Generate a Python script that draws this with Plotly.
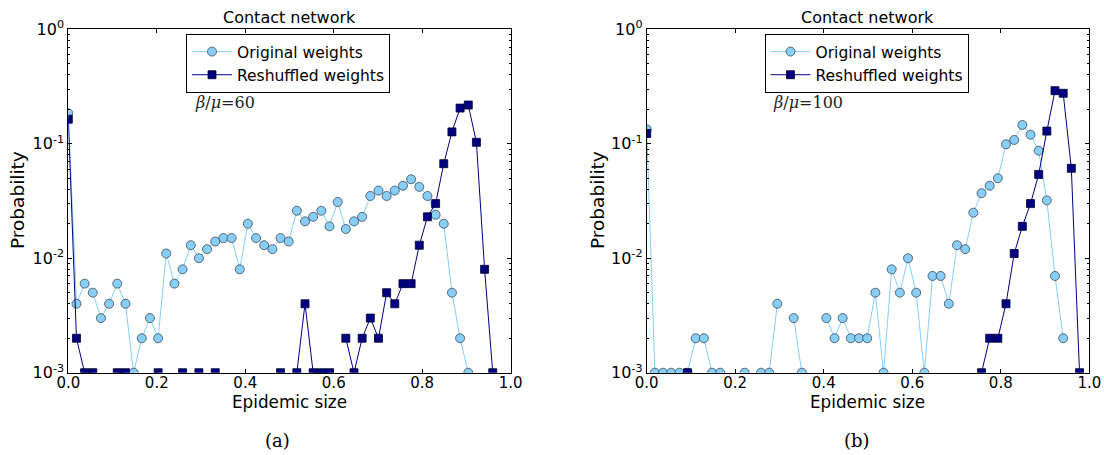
import plotly.graph_objects as go

# Epidemic size bins (fraction of nodes infected)
epidemic_size = [
    0.0, 0.0185, 0.0369, 0.0554, 0.0738, 0.0923, 0.1107, 0.1292, 0.1476, 0.1661,
    0.1845, 0.2030, 0.2214, 0.2399, 0.2583, 0.2768, 0.2952, 0.3137, 0.3321, 0.3506,
    0.3690, 0.3875, 0.4059, 0.4244, 0.4428, 0.4613, 0.4797, 0.4982, 0.5166, 0.5351,
    0.5535, 0.5720, 0.5904, 0.6089, 0.6273, 0.6458, 0.6642, 0.6827, 0.7011, 0.7196,
    0.7380, 0.7565, 0.7749, 0.7934, 0.8118, 0.8303, 0.8487, 0.8672, 0.8856, 0.9041,
    0.9225, 0.9410, 0.9594, 0.9779,
]

# beta/mu = 60
orig_60 = [
    0.185, 0.004, 0.006, 0.005, 0.003, 0.004, 0.006, 0.004, 0.001, 0.002,
    0.003, 0.002, 0.011, 0.006, 0.008, 0.013, 0.010, 0.012, 0.014, 0.015,
    0.015, 0.008, 0.020, 0.015, 0.013, 0.012, 0.015, 0.014, 0.026, 0.021,
    0.023, 0.026, 0.019, 0.031, 0.018, 0.021, 0.023, 0.035, 0.039, 0.035,
    0.039, 0.043, 0.049, 0.042, 0.035, 0.024, 0.020, 0.005, 0.002, 0.001,
    0, 0, 0, 0,
]
resh_60 = [
    0.164, 0.002, 0.001, 0.001, 0, 0, 0.001, 0.001, 0, 0,
    0, 0.001, 0, 0, 0.001, 0, 0.001, 0, 0.001, 0,
    0, 0, 0, 0, 0, 0, 0.001, 0, 0.001, 0.004,
    0.001, 0.001, 0.001, 0, 0.002, 0.001, 0.002, 0.003, 0.002, 0.005,
    0.004, 0.006, 0.006, 0.013, 0.023, 0.030, 0.067, 0.127, 0.205, 0.218,
    0.103, 0.008, 0.001, 0,
]

# beta/mu = 100
orig_100 = [
    0.134, 0.001, 0.001, 0.001, 0.001, 0.001, 0.002, 0.002, 0.001, 0.001,
    0, 0, 0.001, 0, 0.001, 0.001, 0.004, 0, 0.003, 0.001,
    0, 0, 0.003, 0.002, 0.003, 0.002, 0.002, 0.002, 0.005, 0.001,
    0.008, 0.005, 0.010, 0.005, 0.001, 0.007, 0.007, 0.004, 0.013, 0.012,
    0.025, 0.037, 0.043, 0.050, 0.099, 0.108, 0.146, 0.120, 0.087, 0.032,
    0.007, 0.002, 0, 0,
]
resh_100 = [
    0.123, 0, 0, 0, 0, 0.001, 0, 0, 0, 0,
    0, 0, 0, 0, 0, 0, 0, 0, 0, 0,
    0, 0, 0, 0, 0, 0, 0, 0, 0, 0,
    0, 0, 0, 0, 0, 0, 0, 0, 0, 0,
    0, 0.001, 0.002, 0.002, 0.004, 0.011, 0.019, 0.030, 0.054, 0.129,
    0.291, 0.276, 0.061, 0.001,
]

panels = [
    ("60", orig_60, resh_60, "(a)"),
    ("100", orig_100, resh_100, "(b)"),
]
series_names = ["Original weights", "Reshuffled weights"]
ytick_vals = [1, 0.1, 0.01, 0.001]
ytick_text = ["10<sup>0</sup>", "10<sup>-1</sup>", "10<sup>-2</sup>", "10<sup>-3</sup>"]
yminor_vals = [m * 10 ** e for e in (-3, -2, -1) for m in range(2, 10)]

LIGHT = "#87CEFA"
DARK = "#000080"
FONT = "DejaVu Sans"
SERIF = "DejaVu Serif"

x_domains = [(68.3 / 1104, 510.7 / 1104), (646.7 / 1104, 1089.3 / 1104)]
y_domain = (1 - 372.7 / 455, 1 - 29.3 / 455)


def positive(vals):
    # zero probabilities cannot be shown on a log axis
    return [v if v > 0 else None for v in vals]


def label(text, px, py, size=16, family=FONT, **kw):
    # text placed by its centre, in pixels from the top-left corner
    return dict(text=text, x=px / 1104, y=1 - py / 455, xref="paper", yref="paper",
                xanchor=kw.pop("xanchor", "center"), yanchor="middle",
                showarrow=False, font=dict(family=family, size=size,
                                           color=kw.pop("color", "black")), **kw)


fig = go.Figure()
layout = dict(
    width=1104, height=455,
    margin=dict(l=0, r=0, t=0, b=0, pad=0, autoexpand=False),
    paper_bgcolor="white", plot_bgcolor="white",
    showlegend=True,
    annotations=[],
)

for i, (ratio, orig, resh, tag) in enumerate(panels):
    sfx = "" if i == 0 else str(i + 1)
    xa, ya = "x" + sfx, "y" + sfx
    leg = "legend" + sfx
    fig.add_trace(go.Scatter(
        x=epidemic_size, y=positive(orig), name=series_names[0],
        mode="lines+markers", xaxis=xa, yaxis=ya, legend=leg,
        line=dict(color=LIGHT, width=1),
        marker=dict(symbol="circle", size=9, color=LIGHT,
                    line=dict(color="#3a4a55", width=0.8)),
    ))
    fig.add_trace(go.Scatter(
        x=epidemic_size, y=positive(resh), name=series_names[1],
        mode="lines+markers", xaxis=xa, yaxis=ya, legend=leg,
        line=dict(color=DARK, width=1),
        marker=dict(symbol="square", size=8, color=DARK,
                    line=dict(color="#000033", width=0.8)),
    ))

    layout["xaxis" + sfx] = dict(
        domain=list(x_domains[i]), anchor=ya, range=[0, 1],
        tickvals=[0, 0.2, 0.4, 0.6, 0.8, 1.0], tickformat=".1f",
        ticks="inside", ticklen=4, tickcolor="black",
        showline=True, linecolor="black", linewidth=1, mirror="ticks",
        showgrid=False, zeroline=False, ticklabelstandoff=-4,
        tickfont=dict(family=FONT, size=15, color="black"),
    )
    layout["yaxis" + sfx] = dict(
        domain=list(y_domain), anchor=xa, type="log", range=[-3, 0],
        tickvals=ytick_vals, ticktext=ytick_text,
        ticks="inside", ticklen=4, tickcolor="black",
        minor=dict(tickvals=yminor_vals, ticks="inside", ticklen=2,
                   tickcolor="black", showgrid=False),
        showline=True, linecolor="black", linewidth=1, mirror="ticks",
        showgrid=False, zeroline=False,
        tickfont=dict(family=FONT, size=16, color="black"),
    )
    x0, x1 = x_domains[i]
    xc_px = (x0 + x1) / 2 * 1104
    layout[leg] = dict(
        x=(186 + 578.5 * i) / 1104, y=1 - 34 / 455, xanchor="left", yanchor="top",
        bgcolor="white", bordercolor="black", borderwidth=1,
        font=dict(family=FONT, size=15.5, color="black"),
        tracegroupgap=0, itemwidth=40,
    )
    layout["annotations"] += [
        label("Contact network", xc_px, 18),
        label("Epidemic size", xc_px, 402, size=16.8),
        label("Probability", 17 + 580 * i, 200, size=18.5, textangle=-90),
        label("<i>β</i>/<i>μ</i>=" + ratio, 193 + 578 * i, 103, family=SERIF,
              xanchor="left", color="#222"),
        label(tag, 277 + 580 * i, 440, size=18, family=SERIF),
    ]

fig.update_layout(**layout)
fig.write_html("out.html")
